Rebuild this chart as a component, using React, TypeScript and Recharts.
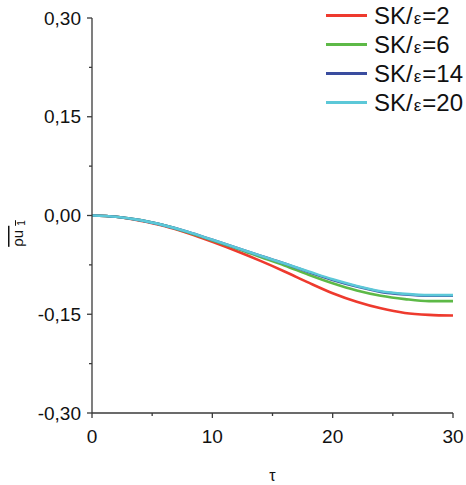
import { LineChart, Line, XAxis, YAxis, Label } from 'recharts';

const tau = [0, 2, 4, 6, 8, 10, 12, 14, 16, 18, 20, 22, 24, 26, 28, 30];
const sk2 = [0, -0.002, -0.008, -0.016, -0.027, -0.04, -0.054, -0.069, -0.085, -0.102, -0.118, -0.131, -0.141, -0.148, -0.151, -0.152];
const sk6 = [0, -0.002, -0.007, -0.015, -0.026, -0.038, -0.05, -0.063, -0.076, -0.09, -0.103, -0.114, -0.122, -0.127, -0.13, -0.13];
const sk14 = [0, -0.002, -0.007, -0.015, -0.025, -0.037, -0.049, -0.061, -0.073, -0.086, -0.098, -0.108, -0.116, -0.12, -0.122, -0.122];
const sk20 = [0, -0.002, -0.007, -0.015, -0.025, -0.037, -0.049, -0.061, -0.073, -0.085, -0.097, -0.107, -0.115, -0.119, -0.121, -0.121];

const seriesKeys = ['sk2', 'sk6', 'sk14', 'sk20'];
const seriesValues = ['2', '6', '14', '20'];
const seriesColors = ['#ee3a2e', '#5db947', '#3a4d9f', '#5cc8d8'];

const xTicks = [0, 5, 10, 15, 20, 25, 30];
const yTicks = [-0.3, -0.225, -0.15, -0.075, 0, 0.075, 0.15, 0.225, 0.3];

const data = tau.map((t, i) => ({ tau: t, sk2: sk2[i], sk6: sk6[i], sk14: sk14[i], sk20: sk20[i] }));

const FONT = 'Arial, "Liberation Sans", sans-serif';
const AXIS = '#3a3a3a';

const isMajor = (v: number, step: number) => Math.abs(v / step - Math.round(v / step)) < 1e-6;

// eslint-disable-next-line @typescript-eslint/no-explicit-any
function YTick({ x, y, payload }: any) {
  const v = payload.value;
  if (!isMajor(v, 0.15)) return <line x1={x - 3} x2={x} y1={y} y2={y} stroke={AXIS} strokeWidth={1.3} />;
  return (
    <g>
      <line x1={x - 5} x2={x} y1={y} y2={y} stroke={AXIS} strokeWidth={1.3} />
      <text x={x - 11} y={y} textAnchor="end" dominantBaseline="central" fontSize={19} fontFamily={FONT} fill="#111">
        {v.toFixed(2).replace('.', ',')}
      </text>
    </g>
  );
}

// eslint-disable-next-line @typescript-eslint/no-explicit-any
function XTick({ x, y, payload }: any) {
  const v = payload.value;
  if (!isMajor(v, 10)) return <line x1={x} x2={x} y1={y} y2={y + 3} stroke={AXIS} strokeWidth={1.3} />;
  return (
    <g>
      <line x1={x} x2={x} y1={y} y2={y + 5} stroke={AXIS} strokeWidth={1.3} />
      <text x={x} y={y + 30} textAnchor="middle" fontSize={19} fontFamily={FONT} fill="#111">
        {v}
      </text>
    </g>
  );
}

// eslint-disable-next-line @typescript-eslint/no-explicit-any
function YLabel({ viewBox }: any) {
  const cx = viewBox.x + 23;
  const cy = viewBox.y + viewBox.height / 2 + 18;
  return (
    <text
      x={cx}
      y={cy}
      transform={`rotate(-90, ${cx}, ${cy})`}
      textAnchor="middle"
      fontSize={15}
      fontFamily={FONT}
      fill="#111"
      style={{ textDecoration: 'overline' }}
    >
      ρu <tspan fontSize={10} dy={2}>1</tspan>
    </text>
  );
}

function LegendBox() {
  return (
    <div style={{ position: 'absolute', left: 326, top: 1, fontFamily: FONT, lineHeight: 1 }}>
      {seriesKeys.map((k, i) => (
        <div key={k} style={{ display: 'flex', alignItems: 'center', height: 29 }}>
          <span style={{ display: 'inline-block', width: 41, height: 3, background: seriesColors[i], marginRight: 7 }} />
          <span style={{ fontSize: 24, color: '#111', whiteSpace: 'nowrap' }}>
            SK/<span style={{ fontSize: 17, margin: '0 1px' }}>ε</span>={seriesValues[i]}
          </span>
        </div>
      ))}
    </div>
  );
}

export default function App() {
  return (
    <div style={{ position: 'absolute', left: 0, top: 0, width: 466, height: 485, background: '#fff' }}>
      <LineChart width={466} height={485} data={data} margin={{ top: 18, right: 13, left: 0, bottom: 0 }}>
        <XAxis
          dataKey="tau"
          type="number"
          domain={[0, 30]}
          ticks={xTicks}
          tick={<XTick />}
          tickLine={false}
          tickSize={0}
          tickMargin={0}
          height={72}
          stroke={AXIS}
          strokeWidth={1.3}
          interval={0}
        >
          <Label value="τ" position="insideBottom" offset={4} fontSize={16} fontFamily={FONT} fill="#111" />
        </XAxis>
        <YAxis
          type="number"
          domain={[-0.3, 0.3]}
          ticks={yTicks}
          tick={<YTick />}
          tickLine={false}
          tickSize={0}
          tickMargin={0}
          width={92}
          stroke={AXIS}
          strokeWidth={1.3}
          interval={0}
        >
          <Label content={<YLabel />} />
        </YAxis>
        {seriesKeys.map((k, i) => (
          <Line
            key={k}
            type="monotone"
            dataKey={k}
            stroke={seriesColors[i]}
            strokeWidth={2.6}
            dot={false}
            isAnimationActive={false}
          />
        ))}
      </LineChart>
      <LegendBox />
    </div>
  );
}
